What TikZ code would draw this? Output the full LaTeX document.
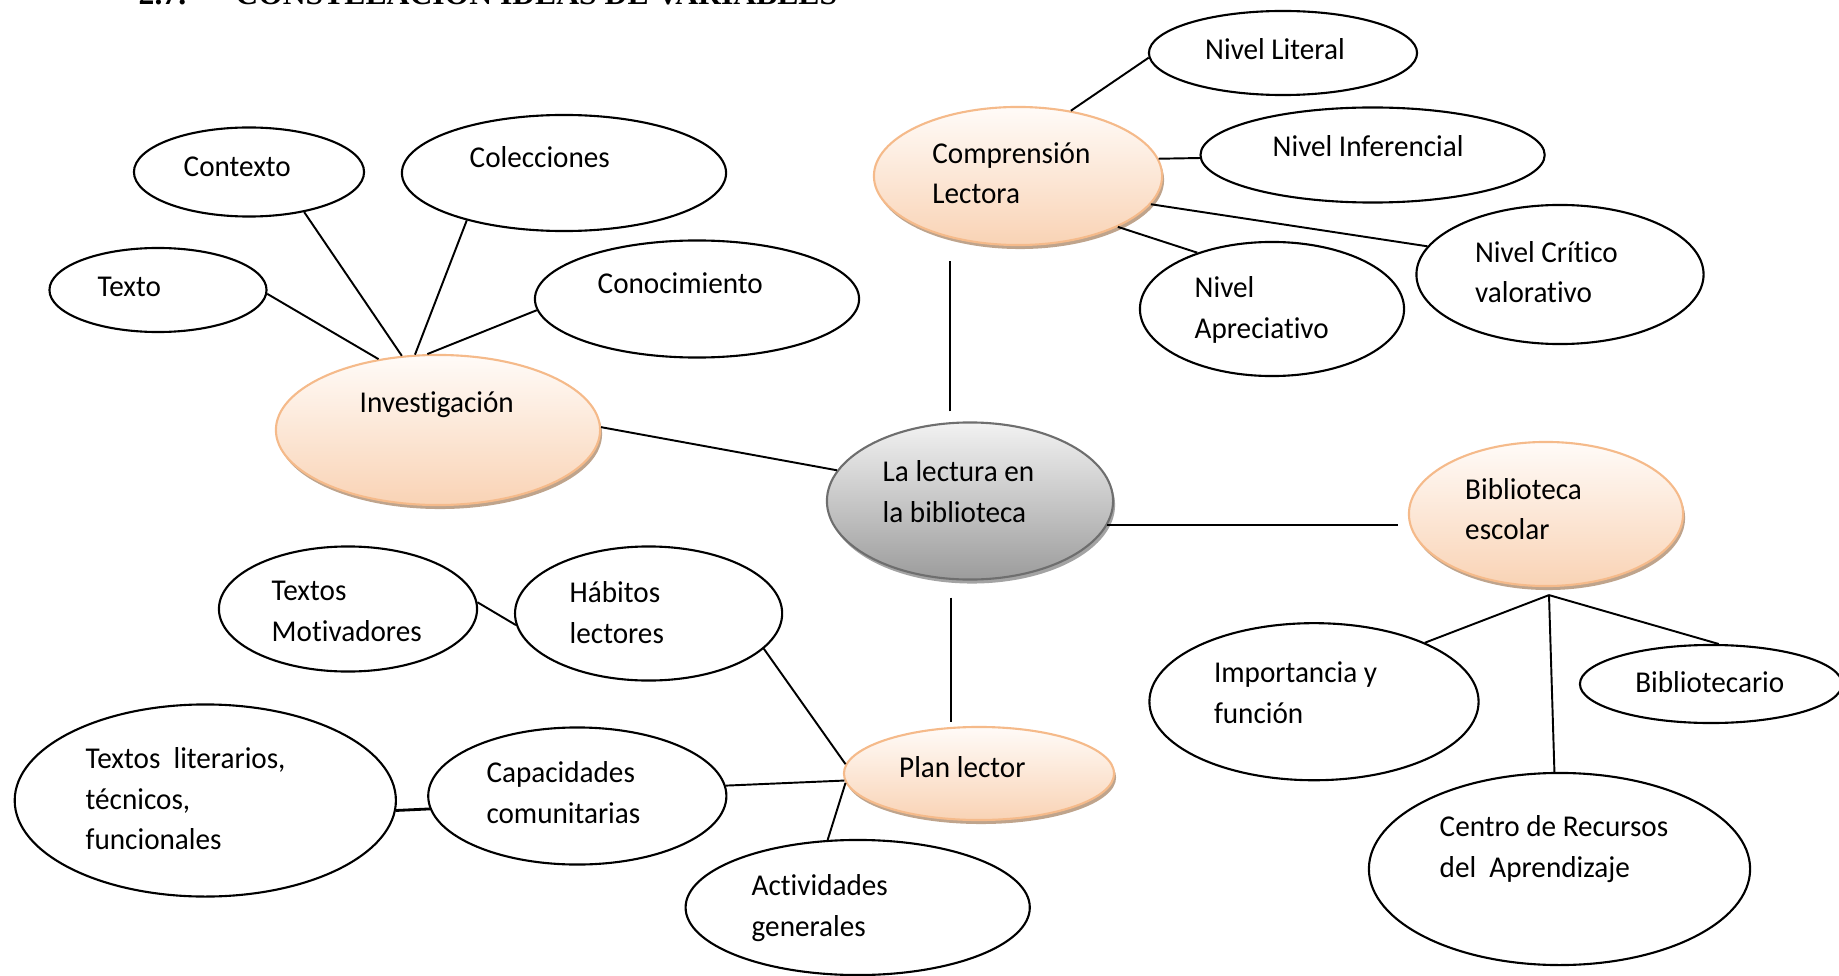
\documentclass[tikz,border=0pt]{standalone}
\usepackage{fontspec}
\setmainfont{Carlito}[FakeStretch=0.965,Ligatures=NoCommon]
\newfontfamily\titulofont{Liberation Serif}
\usetikzlibrary{shapes.geometric,shadows}
\definecolor{naranjaborde}{HTML}{F5BA8A}
\definecolor{naranjaarriba}{HTML}{FFFBF8}
\definecolor{naranjaabajo}{HTML}{F9D3B5}
\definecolor{sombranaranja}{HTML}{B89A80}
\definecolor{grisborde}{HTML}{6E6E6E}
\definecolor{grisarriba}{HTML}{F2F2F2}
\definecolor{grisabajo}{HTML}{9C9C9C}

\begin{document}
\begin{tikzpicture}[x=0.01cm,y=-0.01cm,
	burbuja/.style={ellipse,draw,line width=0.6pt,inner sep=0pt,fill=white},
	naranja/.style={burbuja,draw=naranjaborde,top color=naranjaarriba,bottom color=naranjaabajo,
		drop shadow={shadow xshift=0.02cm,shadow yshift=-0.04cm,fill=sombranaranja,opacity=0.9}},
	gris/.style={burbuja,draw=grisborde,top color=grisarriba,bottom color=grisabajo,
		drop shadow={shadow xshift=0.02cm,shadow yshift=-0.04cm,fill=black!40,opacity=0.9}},
	rotulo/.style={inner sep=0pt,anchor=base west,align=left,font=\fontsize{8.6}{11.55}\selectfont},
	union/.style={line width=0.55pt}]
	\useasboundingbox (0,0) rectangle (1839,976);
	\clip (0,0) rectangle (1839,976);
	% titulo (cortado arriba)
	\node[anchor=base west,inner sep=0pt,font={\titulofont\bfseries\fontsize{9}{11}\selectfont}] (num) at (138,4.5) {2.7.};
	\node[anchor=base west,inner sep=0pt,font={\titulofont\bfseries\fontsize{9}{11}\selectfont}] (titulo) at (234.7,4.5) {CONSTELACIÓN IDEAS DE VARIABLES};
	% centro
	\node[gris,minimum width=2.86cm,minimum height=1.57cm] (lectura) at (970,501) {};
	\node[rotulo] (lectura-t) at (882,522) {La lectura en\\la biblioteca};
	% investigacion
	\node[naranja,minimum width=3.24cm,minimum height=1.50cm] (invest) at (438,430) {};
	\node[rotulo] (invest-t) at (359,412) {Investigación};
	\node[burbuja,minimum width=2.17cm,minimum height=0.84cm] (texto) at (158,290) {};
	\node[rotulo] (texto-t) at (97,297) {Texto};
	\node[burbuja,minimum width=2.30cm,minimum height=0.89cm] (contexto) at (249,172) {};
	\node[rotulo] (contexto-t) at (183,177) {Contexto};
	\node[burbuja,minimum width=3.24cm,minimum height=1.16cm] (colecciones) at (564,173) {};
	\node[rotulo] (colecciones-t) at (469,168) {Colecciones};
	\node[burbuja,minimum width=3.24cm,minimum height=1.17cm] (conocimiento) at (697,299) {};
	\node[rotulo] (conocimiento-t) at (597,294) {Conocimiento};
	% comprension lectora
	\node[naranja,minimum width=2.88cm,minimum height=1.38cm] (comp) at (1018,176) {};
	\node[rotulo] (comp-t) at (931.7,204) {Comprensión\\Lectora};
	\node[burbuja,minimum width=2.68cm,minimum height=0.84cm] (literal) at (1283,53) {};
	\node[rotulo] (literal-t) at (1204.5,59.3) {Nivel Literal};
	\node[burbuja,minimum width=3.44cm,minimum height=0.95cm] (inferencial) at (1372.6,155) {};
	\node[rotulo] (inferencial-t) at (1272,156.7) {Nivel Inferencial};
	\node[burbuja,minimum width=2.64cm,minimum height=1.34cm] (apreciativo) at (1272,309) {};
	\node[rotulo] (apreciativo-t) at (1194,338) {Nivel\\Apreciativo};
	\node[burbuja,minimum width=2.87cm,minimum height=1.39cm] (critico) at (1560,274.5) {};
	\node[rotulo] (critico-t) at (1474.4,302.7) {Nivel Crítico\\valorativo};
	% biblioteca escolar
	\node[naranja,minimum width=2.74cm,minimum height=1.44cm] (biblio) at (1546,514) {};
	\node[rotulo] (biblio-t) at (1464.5,539.7) {Biblioteca\\escolar};
	\node[burbuja,minimum width=3.29cm,minimum height=1.57cm] (importancia) at (1314,701.7) {};
	\node[rotulo] (importancia-t) at (1213.3,723) {Importancia y\\función};
	\node[burbuja,minimum width=2.62cm,minimum height=0.78cm] (bibliotecario) at (1711,684) {};
	\node[rotulo] (bibliotecario-t) at (1634.6,692) {Bibliotecario};
	\node[burbuja,minimum width=3.81cm,minimum height=1.92cm] (recursos) at (1559.5,869) {};
	\node[rotulo] (recursos-t) at (1439,877.3) {Centro de Recursos\\del\ \ Aprendizaje};
	% plan lector
	\node[naranja,minimum width=2.70cm,minimum height=0.93cm] (plan) at (979,773.5) {};
	\node[rotulo] (plan-t) at (898.5,777.5) {Plan lector};
	\node[burbuja,minimum width=2.58cm,minimum height=1.25cm] (motivadores) at (348,609) {};
	\node[rotulo] (motivadores-t) at (271,641.3) {Textos\\Motivadores};
	\node[burbuja,minimum width=2.67cm,minimum height=1.34cm] (habitos) at (648.6,613.5) {};
	\node[rotulo] (habitos-t) at (569,643) {Hábitos\\lectores};
	\node[burbuja,minimum width=3.81cm,minimum height=1.92cm] (literarios) at (205.3,800.5) {};
	\node[rotulo] (literarios-t) at (85,849.7) {Textos\ \ literarios,\\técnicos,\\funcionales};
	\node[burbuja,minimum width=2.98cm,minimum height=1.37cm] (capacidades) at (577.3,796) {};
	\node[rotulo] (capacidades-t) at (485.8,823) {Capacidades\\comunitarias};
	\node[burbuja,minimum width=3.44cm,minimum height=1.35cm] (actividades) at (857.7,907.5) {};
	\node[rotulo] (actividades-t) at (751,936.3) {Actividades\\generales};
	% uniones
	\coordinate (hub) at ([shift={(3,8)}]biblio.south);
	\foreach \a/\b in {texto.358/invest.130, contexto.324/invest.116, colecciones.206/invest.107,
		conocimiento.184/invest.98, invest.1/lectura.167, comp.51/literal.182, comp.7/inferencial.181,
		comp.348/critico.168, comp.333/apreciativo.143, motivadores.3/habitos.185, habitos.343/plan.176,
		capacidades.4/plan.183, actividades.114/plan.184, hub/importancia.28, hub/recursos.93,
		hub/bibliotecario.79}
		\draw[union] (\a) -- (\b);
	\draw[union] ([shift={(-20,-10)}]lectura.north) -- ([shift={(-68,15)}]comp.south);
	\draw[union] ([shift={(-19,17)}]lectura.south) -- ([shift={(-28,-4)}]plan.north);
	\draw[union,shorten >=0.1cm] (lectura.350) -- (lectura.350 -| biblio.west);
	\draw[line width=0.8pt] (literarios.357) -- (capacidades.185);
\end{tikzpicture}
\end{document}
